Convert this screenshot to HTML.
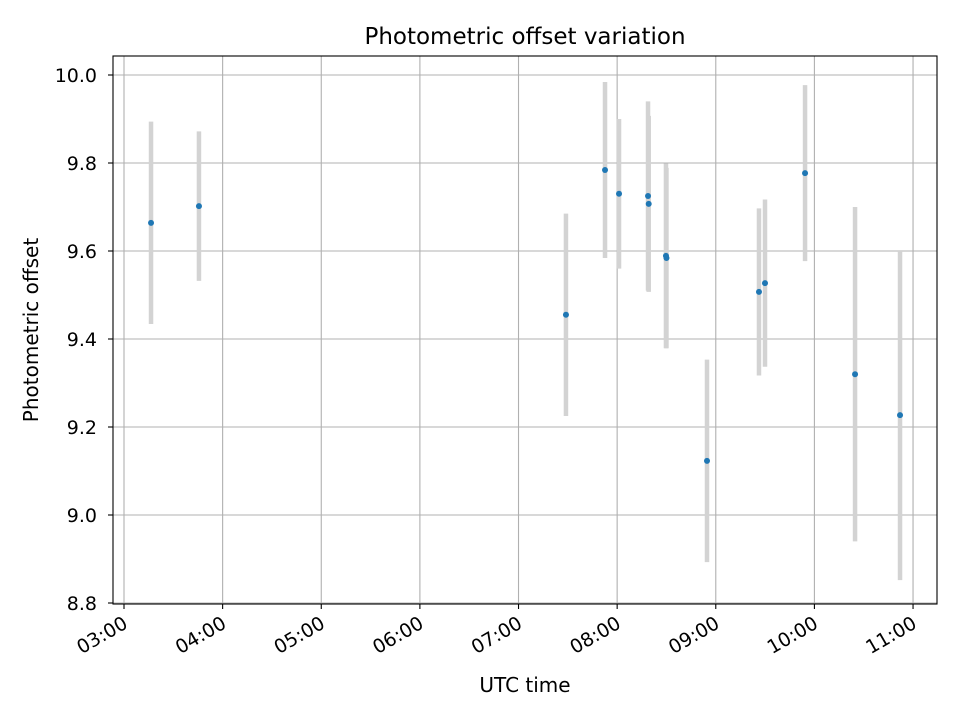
<!DOCTYPE html>
<html><head><meta charset="utf-8"><title>Photometric offset variation</title>
<style>
body{margin:0;background:#fff;}
svg{display:block;font-family:"DejaVu Sans","Liberation Sans",sans-serif;}
</style></head>
<body>
<svg id="chart" width="960" height="720" viewBox="0 0 960 720" xmlns="http://www.w3.org/2000/svg">
<rect width="960" height="720" fill="#fff"/>
<text x="525" y="44" font-size="23" text-anchor="middle" fill="#000">Photometric offset variation</text>
<g id="grid"></g>
<g id="errs"></g>
<g id="pts"></g>
<rect x="113" y="56" width="824" height="548" fill="none" stroke="#000" stroke-width="1.1"/>
<g id="axes"></g>
<text x="525" y="692" font-size="20" text-anchor="middle">UTC time</text>
<text transform="translate(38,330) rotate(-90)" font-size="20" text-anchor="middle">Photometric offset</text>
</svg>
<script>
// data: times in decimal hours UTC
const times = [3.274, 3.760, 7.481, 7.877, 8.019, 8.313, 8.320, 8.495, 8.500, 8.911, 9.438, 9.499, 9.905, 10.412, 10.868];
const offsets = [9.664, 9.702, 9.455, 9.784, 9.730, 9.725, 9.707, 9.589, 9.584, 9.123, 9.507, 9.527, 9.777, 9.320, 9.227];
const errors = [0.23, 0.17, 0.23, 0.20, 0.17, 0.215, 0.20, 0.21, 0.205, 0.23, 0.19, 0.19, 0.20, 0.38, 0.375];
const xTickHours = [3,4,5,6,7,8,9,10,11];
const xTickLabels = ["03:00","04:00","05:00","06:00","07:00","08:00","09:00","10:00","11:00"];
const yTicks = [8.8, 9.0, 9.2, 9.4, 9.6, 9.8, 10.0];
const yTickLabels = ["8.8","9.0","9.2","9.4","9.6","9.8","10.0"];

const NS = "http://www.w3.org/2000/svg";
const xs = h => 124 + (h - 3) * 98.63;
const ys = v => 75 + (10 - v) * 440;
function mk(tag, attrs, parent){const e=document.createElementNS(NS,tag);for(const k in attrs)e.setAttribute(k,attrs[k]);parent.appendChild(e);return e;}
const grid=document.getElementById('grid'), errs=document.getElementById('errs'), pts=document.getElementById('pts'), axes=document.getElementById('axes');

xTickHours.forEach((h,i)=>{
  const x=xs(h);
  const g=mk('line',{x1:x,x2:x,y1:56,y2:604,stroke:'#b0b0b0','stroke-width':1.1},grid);
  
  
  const t=mk('line',{x1:x,x2:x,y1:604,y2:609,stroke:'#000','stroke-width':1.1},axes);
  
  
  const l=mk('text',{transform:`translate(${x+5},${627}) rotate(-30)`,'font-size':19,'text-anchor':'end'},axes);
  
  
  l.textContent=xTickLabels[i];
});
yTicks.forEach((v,i)=>{
  const y=ys(v);
  const g=mk('line',{x1:113,x2:937,y1:y,y2:y,stroke:'#b0b0b0','stroke-width':1.1},grid);
  
  
  const t=mk('line',{x1:108,x2:113,y1:y,y2:y,stroke:'#000','stroke-width':1.1},axes);
  
  
  const l=mk('text',{x:97,y:y+7,'font-size':19,'text-anchor':'end'},axes);
  
  
  l.textContent=yTickLabels[i];
});
times.forEach((h,i)=>{
  const x=xs(h);
  const e=mk('line',{x1:x,x2:x,y1:ys(offsets[i]+errors[i]),y2:ys(offsets[i]-errors[i]),stroke:'#d3d3d3','stroke-width':4.5},errs);
  
  
  const c=mk('circle',{cx:x,cy:ys(offsets[i]),r:3,fill:'#1f77b4'},pts);
  
  
});
</script>
</body></html>
